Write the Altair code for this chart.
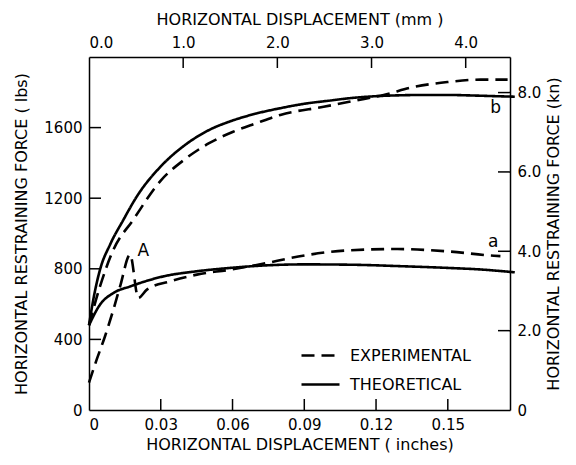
import altair as alt
import pandas as pd

# ---------------- data (inches, lbs) ----------------
theo_b_x = [0, 0.002, 0.0046, 0.0088, 0.0144, 0.02, 0.03, 0.04, 0.05, 0.06, 0.07, 0.08, 0.09, 0.10, 0.11, 0.12, 0.13, 0.14, 0.15, 0.16, 0.17, 0.178]
theo_b_y = [480, 640, 795, 937, 1078, 1210, 1380, 1500, 1585, 1640, 1680, 1710, 1735, 1752, 1768, 1778, 1783, 1785, 1785, 1782, 1778, 1775]

exp_b_x = [0, 0.0046, 0.0102, 0.0185, 0.03, 0.04, 0.05, 0.06, 0.07, 0.08, 0.0981, 0.1121, 0.1232, 0.1358, 0.1498, 0.1637, 0.175]
exp_b_y = [480, 700, 908, 1078, 1300, 1420, 1510, 1575, 1625, 1672, 1718, 1755, 1785, 1830, 1858, 1872, 1872]

theo_a_x = [0, 0.0046, 0.0102, 0.0172, 0.0311, 0.0451, 0.059, 0.075, 0.09, 0.11, 0.13, 0.15, 0.165, 0.178]
theo_a_y = [480, 597, 663, 700, 757, 786, 805, 820, 825, 823, 815, 805, 795, 780]

exp_a_x = [0, 0.0032, 0.0067, 0.0102, 0.013, 0.0172, 0.0206, 0.0242, 0.0339, 0.0451, 0.059, 0.0744, 0.0842, 0.1079, 0.1288, 0.1498, 0.1693, 0.172]
exp_a_y = [155, 285, 418, 569, 700, 880, 635, 682, 729, 767, 795, 833, 861, 904, 912, 899, 874, 872]

legend_labels = ["EXPERIMENTAL", "THEORETICAL"]

bottom_ticks = [0, 0.03, 0.06, 0.09, 0.12, 0.15]
top_ticks_mm = [0.0, 1.0, 2.0, 3.0, 4.0]
left_ticks = [0, 400, 800, 1200, 1600]
right_ticks_kn = [0, 2.0, 4.0, 6.0, 8.0]

ann_text = ["A", "b", "a"]
ann_x = [0.0227, 0.170, 0.169]
ann_y = [899, 1712, 954]

MM_PER_IN = 25.4
LBS_PER_KN = 224.809

# ---------------- tables ----------------
rows = []
for curve, typ, xs_, ys_ in [
    ("b", "THEORETICAL", theo_b_x, theo_b_y),
    ("b", "EXPERIMENTAL", exp_b_x, exp_b_y),
    ("a", "THEORETICAL", theo_a_x, theo_a_y),
    ("a", "EXPERIMENTAL", exp_a_x, exp_a_y),
]:
    for x, y in zip(xs_, ys_):
        rows.append({"curve": curve + typ, "type": typ, "x": x, "lbs": y})
df = pd.DataFrame(rows)

ann = pd.DataFrame({"t": ann_text, "x": ann_x, "lbs": ann_y})

bt = pd.DataFrame({"v": [v for v in bottom_ticks if v > 0]})
tt = pd.DataFrame({"v": [m / MM_PER_IN for m in top_ticks_mm if m > 0]})
lt = pd.DataFrame({"v": [v for v in left_ticks if v > 0]})
rt = pd.DataFrame({"v": [k * LBS_PER_KN for k in right_ticks_kn if k > 0]})

W, H = 421, 353
FONT = "DejaVu Sans"
TITLE_FS = 16
LABEL_FS = 15

xs = alt.Scale(domain=[0, 0.176], nice=False, zero=False)
ys = alt.Scale(domain=[0, 2000], nice=False)

lines = alt.Chart(df).mark_line(strokeWidth=2.6, color="black", interpolate="monotone").encode(
    x=alt.X("x:Q", scale=xs, axis=alt.Axis(
        orient="bottom", values=bottom_ticks, tickSize=0, labelPadding=7,
        labelExpr="datum.value == 0 ? '0' : format(datum.value, '.2f')",
        title="HORIZONTAL DISPLACEMENT ( inches)", titlePadding=4)),
    y=alt.Y("lbs:Q", scale=ys, axis=alt.Axis(
        orient="left", values=left_ticks, tickSize=0, labelPadding=7, format="d",
        title="HORIZONTAL RESTRAINING FORCE ( lbs)", titlePadding=14)),
    strokeDash=alt.StrokeDash("type:N", scale=alt.Scale(domain=legend_labels, range=[[13, 7], [1, 0]]),
        legend=alt.Legend(title=None, orient="none", legendX=211, legendY=278,
                          symbolType="stroke", symbolSize=1444, symbolStrokeWidth=2.6,
                          symbolStrokeColor="black", labelFont=FONT, labelFontSize=16,
                          labelColor="black", rowPadding=-14, labelOffset=9)),
    detail="curve:N",
)

sec = alt.Chart(df).mark_point(opacity=0).encode(
    x=alt.X("x:Q", scale=xs, axis=alt.Axis(
        orient="top", values=[m / MM_PER_IN for m in top_ticks_mm], tickSize=0, labelPadding=7,
        labelExpr="format(datum.value * 25.4, '.1f')",
        title="HORIZONTAL DISPLACEMENT (mm )", titlePadding=8)),
    y=alt.Y("lbs:Q", scale=ys, axis=alt.Axis(
        orient="right", values=[k * LBS_PER_KN for k in right_ticks_kn], tickSize=0, labelPadding=7,
        labelExpr="datum.value < 1 ? '0' : format(datum.value / 224.809, '.1f')",
        title="HORIZONTAL RESTRAINING FORCE (kn)", titleAngle=270, titleBaseline="top",
        titlePadding=5)),
)

tick_b = alt.Chart(bt).mark_rule(color="black", strokeWidth=1.5).encode(
    x=alt.X("v:Q", scale=xs, axis=None), y=alt.value(H), y2=alt.value(H - 11))
tick_t = alt.Chart(tt).mark_rule(color="black", strokeWidth=1.5).encode(
    x=alt.X("v:Q", scale=xs, axis=None), y=alt.value(0), y2=alt.value(11))
tick_l = alt.Chart(lt).mark_rule(color="black", strokeWidth=1.5).encode(
    y=alt.Y("v:Q", scale=ys, axis=None), x=alt.value(0), x2=alt.value(12))
tick_r = alt.Chart(rt).mark_rule(color="black", strokeWidth=1.5).encode(
    y=alt.Y("v:Q", scale=ys, axis=None), x=alt.value(W), x2=alt.value(W - 12))

labels = alt.Chart(ann).mark_text(font=FONT, fontSize=17, color="black", align="center", baseline="middle").encode(
    x=alt.X("x:Q", scale=xs, axis=None), y=alt.Y("lbs:Q", scale=ys, axis=None), text="t:N")

chart = alt.layer(lines, sec, tick_b, tick_t, tick_l, tick_r, labels).resolve_axis(
    x="independent", y="independent"
).properties(
    width=W, height=H,
    background="white",
    autosize=alt.AutoSizeParams(type="none"),
    padding={"left": 81, "top": 49, "right": 58, "bottom": 47},
).configure_view(stroke=None).configure_axis(
    labelFont=FONT, labelFontSize=LABEL_FS, labelColor="black",
    titleFont=FONT, titleFontSize=TITLE_FS, titleFontWeight="normal", titleColor="black",
    domainColor="black", domainWidth=1.5, grid=False,
)

chart.save("out.html", embed_options={"renderer": "svg", "actions": False})
